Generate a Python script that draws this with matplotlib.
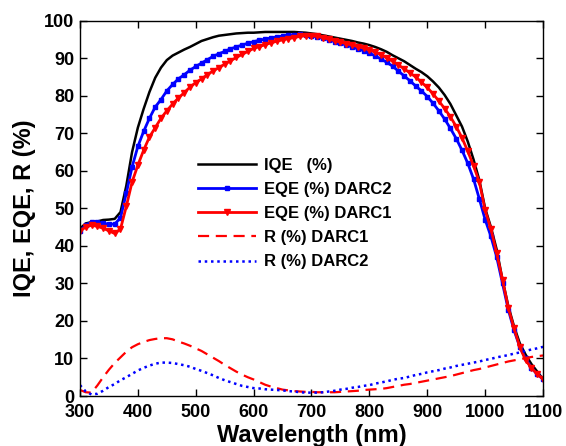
import matplotlib
matplotlib.use("Agg")
import matplotlib.pyplot as plt
import numpy as np

# wavelength grid (nm), 10 nm steps
wavelength = np.arange(300, 1101, 10)

iqe = [44.6, 46.0, 46.3, 46.5, 46.9, 47.0, 47.2, 49.0, 56.0, 65.0,
       71.5, 76.5, 81.0, 84.8, 87.5, 89.5, 90.7, 91.5, 92.3, 93.0,
       93.8, 94.6, 95.1, 95.6, 96.0, 96.2, 96.4, 96.6, 96.7, 96.8,
       96.8, 96.9, 97.0, 97.0, 97.0, 97.0, 97.0, 97.0, 96.9, 96.8,
       96.6, 96.4, 96.1, 95.8, 95.5, 95.2, 94.9, 94.6, 94.2, 93.9,
       93.5, 93.0, 92.4, 91.7, 90.8, 90.0, 89.2, 88.2, 87.2, 86.3,
       85.2, 83.8, 82.2, 80.2, 77.8, 74.8, 71.8, 67.8, 63.0, 57.5,
       50.0, 45.0, 39.0, 31.0, 24.0, 18.5, 14.0, 11.0, 8.5, 6.5, 4.5]

eqe_darc2 = [44.0, 45.5, 46.4, 46.3, 46.0, 45.8, 45.8, 47.5, 54.0, 61.0,
             66.5, 70.5, 74.0, 77.0, 79.0, 81.3, 83.0, 84.5, 85.6, 86.8,
             87.8, 88.7, 89.6, 90.5, 91.2, 91.8, 92.5, 93.0, 93.5, 94.0,
             94.4, 94.8, 95.1, 95.4, 95.7, 95.9, 96.1, 96.3, 96.4, 96.3,
             96.0, 95.6, 95.3, 94.9, 94.4, 94.0, 93.5, 93.0, 92.5, 92.0,
             91.4, 90.6, 89.8, 88.9, 87.9, 86.6, 85.3, 84.0, 82.6, 81.3,
             79.8, 78.0, 76.0, 73.8, 71.3, 68.6, 65.5, 62.0, 57.8, 52.5,
             47.0, 42.5, 37.0, 30.0, 23.0, 17.5, 13.0, 10.0, 7.5, 5.8, 4.5]

eqe_darc1 = [44.0, 45.0, 45.5, 45.2, 44.7, 44.0, 43.3, 44.5, 50.5, 57.0,
             61.5, 65.5, 69.0, 71.5, 74.0, 76.0, 77.8, 79.4, 80.8, 82.3,
             83.5, 84.5, 85.6, 86.6, 87.5, 88.4, 89.3, 90.2, 91.0, 91.8,
             92.6, 93.1, 93.6, 94.1, 94.5, 94.9, 95.2, 95.5, 95.8, 96.0,
             96.0, 95.8, 95.5, 95.1, 94.7, 94.3, 93.9, 93.5, 93.1, 92.7,
             92.2, 91.6, 90.9, 90.1, 89.2, 88.2, 87.2, 86.1, 85.0, 83.6,
             82.2, 80.5, 78.6, 76.6, 74.4, 71.8, 68.8, 65.2, 61.3, 57.0,
             49.5, 44.5, 38.0, 31.0, 23.5, 18.0, 13.0, 9.5, 7.5, 5.8, 4.5]

r_darc1 = [1.6, 1.0, 0.9, 2.8, 5.0, 7.0, 8.8, 10.3, 11.8, 13.0,
           13.8, 14.4, 14.9, 15.2, 15.4, 15.4, 15.1, 14.5, 14.0, 13.4,
           12.7, 12.0, 11.1, 10.2, 9.3, 8.3, 7.4, 6.5, 5.7, 5.0,
           4.4, 3.7, 3.0, 2.5, 2.1, 1.7, 1.5, 1.3, 1.2, 1.1,
           1.1, 1.0, 1.0, 1.0, 1.0, 1.1, 1.2, 1.3, 1.4, 1.6,
           1.7, 1.8, 1.9, 2.1, 2.4, 2.7, 3.0, 3.2, 3.5, 3.8,
           4.1, 4.4, 4.7, 5.0, 5.3, 5.7, 6.1, 6.5, 6.9, 7.2,
           7.6, 8.0, 8.4, 8.8, 9.2, 9.5, 9.8, 10.1, 10.4, 10.6, 10.8]

r_darc2 = [2.9, 1.2, 0.4, 0.6, 1.4, 2.4, 3.2, 4.2, 5.0, 5.9,
           6.8, 7.5, 8.1, 8.6, 8.9, 8.9, 8.8, 8.5, 8.2, 7.8,
           7.2, 6.7, 6.1, 5.5, 4.8, 4.2, 3.7, 3.2, 2.7, 2.4,
           2.1, 2.0, 1.8, 1.7, 1.6, 1.5, 1.3, 1.2, 1.0, 0.9,
           0.9, 0.9, 1.0, 1.2, 1.4, 1.7, 1.9, 2.2, 2.4, 2.7,
           2.9, 3.3, 3.6, 3.9, 4.3, 4.6, 4.8, 5.2, 5.6, 5.9,
           6.3, 6.6, 6.9, 7.3, 7.6, 8.0, 8.3, 8.6, 8.9, 9.2,
           9.6, 9.9, 10.3, 10.6, 10.9, 11.3, 11.6, 12.0, 12.4, 12.7, 13.1]

x_ticks = list(range(300, 1101, 100))
y_ticks = list(range(0, 101, 10))

plt.rcParams["font.family"] = ["Liberation Sans", "DejaVu Sans"]
plt.rcParams["font.weight"] = "bold"

fig = plt.figure(figsize=(5.66, 4.46), dpi=100)
ax = fig.add_axes([0.1413, 0.1121, 0.8181, 0.8415])

ax.plot(wavelength, iqe, color="black", lw=1.8, label="IQE   (%)")
ax.plot(wavelength, eqe_darc2, color="#0000ff", lw=2, marker="s", ms=3.5,
        label="EQE (%) DARC2")
ax.plot(wavelength, eqe_darc1, color="#ff0000", lw=2, marker="v", ms=5,
        label="EQE (%) DARC1")
ax.plot(wavelength, r_darc1, color="#ff0000", lw=1.6, ls=(0, (5, 3)),
        label="R (%) DARC1")
ax.plot(wavelength, r_darc2, color="#0000ff", lw=1.8, ls=(0, (1, 1.5)),
        label="R (%) DARC2")

ax.set_xlim(300, 1100)
ax.set_ylim(0, 100)
ax.set_xticks(x_ticks)
ax.set_yticks(y_ticks)
ax.tick_params(direction="in", top=True, right=True, length=5, width=1,
               labelsize=13)
ax.tick_params(axis="x", pad=6)
ax.tick_params(axis="y", pad=4)
for lab in ax.get_xticklabels() + ax.get_yticklabels():
    lab.set_fontweight("bold")
for sp in ax.spines.values():
    sp.set_linewidth(1)

ax.set_xlabel("Wavelength (nm)", fontsize=17, fontweight="bold", labelpad=2)
ax.set_ylabel("IQE, EQE, R (%)", fontsize=17, fontweight="bold", labelpad=6)

ax.legend(loc="upper left", bbox_to_anchor=(0.255, 0.635), frameon=False,
          borderaxespad=0, borderpad=0, handlelength=3.5, handletextpad=0.45,
          labelspacing=0.55, numpoints=1, prop={"weight": "bold", "size": 12})

fig.savefig("out.png", dpi=100)
